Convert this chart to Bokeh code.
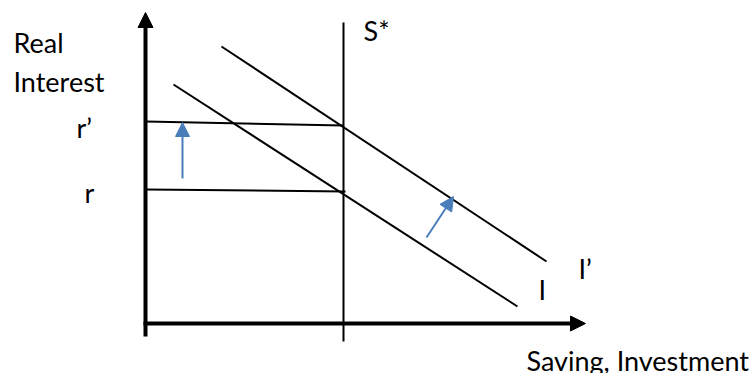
from bokeh.plotting import figure
from bokeh.models import Range1d, Arrow, NormalHead, ColumnDataSource
from bokeh.core.properties import value
from bokeh.embed import file_html
from bokeh.resources import INLINE

# ---- diagram data (abstract units, origin at the axes' corner) ----
# investment curves
i_x = [28, 372]
i_y = [239, 17]
i_prime_x = [76, 401]
i_prime_y = [277, 62]
# vertical saving line S*
s_star_x = [198, 198]
s_star_y = [-18, 301]
# interest-rate levels r' and r (drawn from the axis to S*)
r_prime_x = [0, 198]
r_prime_y = [202, 198]
r_x = [0, 200]
r_y = [134, 132]
# axes
y_axis_x = [0, 0]
y_axis_y = [-13, 311]
x_axis_x = [-2, 440]
x_axis_y = [0, 0]
# shift arrows (start, end)
shift_up = [(37, 145), (37, 201)]
shift_diag = [(281, 86), (308, 127)]
# labels
label_text = ["Real", "Interest", "r\u2019", "r", "S*", "I\u2019", "I", "Saving, Investment"]
label_x = [-132, -132, -69, -61, 218, 433, 393, 381]
label_y = [281, 242, 196, 131, 293, 55, 34, -37]

BLUE = "#4a7ebb"

p = figure(width=754, height=373, x_range=Range1d(-145, 609), y_range=Range1d(-50, 323),
           x_axis_type=None, y_axis_type=None, toolbar_location=None,
           output_backend="svg", min_border=0, outline_line_color=None)
p.grid.visible = False

# lines
p.line(i_x, i_y, line_color="black", line_width=2)
p.line(i_prime_x, i_prime_y, line_color="black", line_width=2)
p.line(s_star_x, s_star_y, line_color="black", line_width=2)
p.line(r_prime_x, r_prime_y, line_color="black", line_width=2)
p.line(r_x, r_y, line_color="black", line_width=2)

# axes arrows
p.add_layout(Arrow(end=NormalHead(size=15, fill_color="black", line_color="black"),
                   x_start=y_axis_x[0], y_start=y_axis_y[0], x_end=y_axis_x[1], y_end=y_axis_y[1],
                   line_width=4, line_color="black"))
p.add_layout(Arrow(end=NormalHead(size=15, fill_color="black", line_color="black"),
                   x_start=x_axis_x[0], y_start=x_axis_y[0], x_end=x_axis_x[1], y_end=x_axis_y[1],
                   line_width=4, line_color="black"))

# blue shift arrows
for (x0, y0), (x1, y1) in [shift_up, shift_diag]:
    p.add_layout(Arrow(end=NormalHead(size=14, fill_color=BLUE, line_color=BLUE),
                       x_start=x0, y_start=y0, x_end=x1, y_end=y1,
                       line_width=2, line_color=BLUE))

src = ColumnDataSource(dict(x=label_x, y=label_y, text=label_text))
p.text(x="x", y="y", text="text", source=src, text_font=value("Lato"),
       text_font_size="27px", text_baseline="alphabetic", text_align="left",
       text_color="black")

open("out.html", "w").write(file_html(p, INLINE))
